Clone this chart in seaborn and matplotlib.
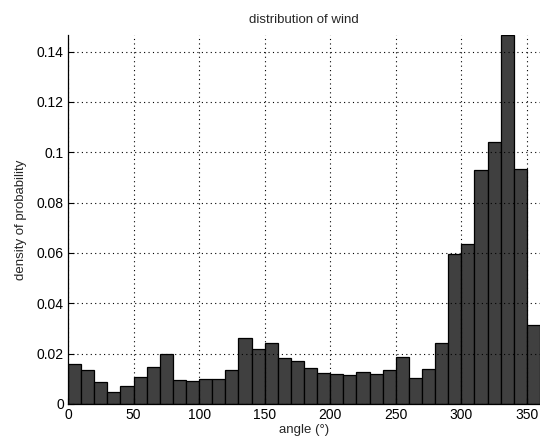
import numpy as np
import pandas as pd
import matplotlib
matplotlib.use('Agg')
import matplotlib.pyplot as plt
import seaborn as sns

sns.set_style('white')
plt.rcParams['font.family'] = ['Liberation Sans', 'DejaVu Sans']

# 36 bins of 10 degrees, left edges
bin_left = np.arange(0, 360, 10)
prob = [0.0157, 0.0136, 0.0087, 0.0049, 0.0071, 0.0106, 0.0148, 0.0200,
        0.0096, 0.0092, 0.0100, 0.0100, 0.0136, 0.0262, 0.0217, 0.0243,
        0.0181, 0.0171, 0.0144, 0.0122, 0.0118, 0.0114, 0.0127, 0.0118,
        0.0135, 0.0186, 0.0104, 0.0139, 0.0243, 0.0595, 0.0637, 0.0928,
        0.1040, 0.1466, 0.0932, 0.0313]
y_ticks = [0, 0.02, 0.04, 0.06, 0.08, 0.1, 0.12, 0.14]
y_labels = ['0', '0.02', '0.04', '0.06', '0.08', '0.1', '0.12', '0.14']
x_ticks = [0, 50, 100, 150, 200, 250, 300, 350]

df = pd.DataFrame({'angle': bin_left + 5, 'prob': prob})

fig = plt.figure(figsize=(5.4, 4.47), dpi=100)
ax = fig.add_axes([0.126, 0.0962, 0.874, 0.8255])

sns.histplot(data=df, x='angle', weights='prob', binwidth=10,
             binrange=(0, 360), color='#404040', edgecolor='black',
             linewidth=0.9, alpha=1, ax=ax)

ax.set_xlim(0, 360)
ax.set_ylim(0, max(prob))
ax.set_xticks(x_ticks)
ax.set_yticks(y_ticks)
ax.set_yticklabels(y_labels)
ax.grid(True, linestyle=(0, (1, 3)), color='black', linewidth=0.8)
ax.set_axisbelow(False)
for s in ['top', 'right']:
    ax.spines[s].set_visible(False)
for s in ['left', 'bottom']:
    ax.spines[s].set_color('black')
    ax.spines[s].set_linewidth(0.9)
ax.tick_params(direction='in', length=4, labelsize=10, colors='black',
               left=True, bottom=True, pad=3)

ax.set_title('distribution of wind', fontsize=9.5, pad=9)
ax.set_xlabel('angle (°)', fontsize=9.5, labelpad=1)
ax.set_ylabel('density of probability', fontsize=9.5, labelpad=7)

fig.savefig('out.png', dpi=100)
